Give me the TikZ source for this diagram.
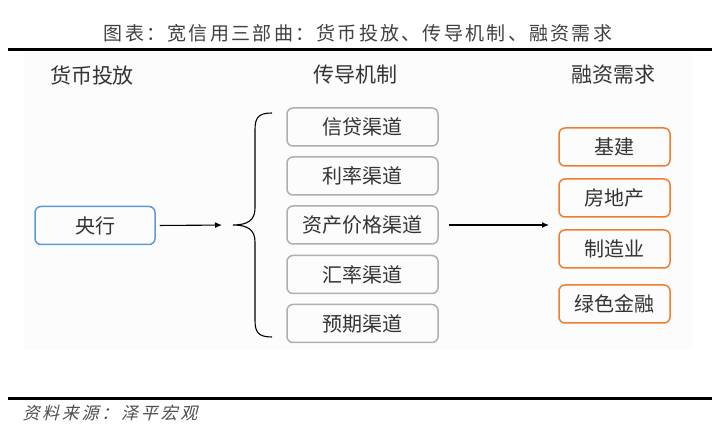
\documentclass[tikz,border=0pt]{standalone}
\usepackage{fontspec}
\usepackage{xcolor}
\usepackage{tikz}
\usetikzlibrary{positioning,calc,arrows.meta}
\setmainfont{Noto Sans CJK SC}
\newfontfamily\titlefont[LetterSpace=12]{Noto Sans CJK SC}
\newfontfamily\sourcefont[FakeSlant=0.25,LetterSpace=16]{Noto Sans CJK SC}
\definecolor{boxblue}{HTML}{5B9BD5}
\definecolor{boxorange}{HTML}{ED7D31}
\definecolor{boxgray}{HTML}{AFAFAF}
\definecolor{textgray}{HTML}{333333}

\begin{document}
\begin{tikzpicture}[x=1pt,y=-1pt,
    chan/.style={rectangle, rounded corners=6pt, draw=boxgray, line width=1.5pt, minimum width=151pt, minimum height=38pt, text=textgray, font=\fontsize{20}{24}\selectfont},
    bank/.style={chan, draw=boxblue, minimum width=120pt},
    need/.style={chan, draw=boxorange, minimum width=111pt},
    head/.style={text=textgray, font=\fontsize{21}{24}\selectfont},
    flow/.style={-{Latex[length=7pt,width=6pt]}, line width=1.1pt}]
    \useasboundingbox (0,0) rectangle (716,443);
    \fill [black!1.2] (24,52) rectangle (692,350);
    \node (title) [text=black!75, font=\titlefont\fontsize{19}{22}\selectfont] at (358,33) {图表：宽信用三部曲：货币投放、传导机制、融资需求};
    \draw [line width=3pt] (8,50) -- (712,50);
    \draw [line width=3pt] (8,399) -- (712,399);
    \node (source) [anchor=west, text=black!70, font=\sourcefont\fontsize{17}{20}\selectfont] at (19,413) {资料来源：泽平宏观};

    % column heads
    \node (supply) [head] at (92,75) {货币投放};
    \node (channel) [head] at (355,75) {传导机制};
    \node (demand) [head] at (613,75) {融资需求};

    % central bank
    \node (cb) [bank] at (95,225.5) {央行};

    % transmission channels
    \node (credit) [chan] at (362.5,127) {信贷渠道};
    \node (rate) [chan] at (362.5,176) {利率渠道};
    \node (asset) [chan] at (362.5,225) {资产价格渠道};
    \node (fx) [chan] at (362.5,274.5) {汇率渠道};
    \node (expect) [chan] at (362.5,323.5) {预期渠道};

    % financing demand
    \node (infra) [need] at (614.5,147) {基建};
    \node (estate) [need] at (614.5,198) {房地产};
    \node (manu) [need] at (614.5,249) {制造业};
    \node (green) [need] at (614.5,304) {绿色金融};

    % brace and arrows
    \coordinate (bracetip) at (233,225);
    \coordinate (demandin) at (549,225);
    \draw [line width=1.1pt] (272,113) .. controls (258,113) and (255,118) .. (255,130)
        -- (255,208) .. controls (255,220) and (248,225) .. (bracetip)
        .. controls (248,225) and (255,230) .. (255,242)
        -- (255,320) .. controls (255,332) and (258,337) .. (272,337);
    \draw [flow, shorten <=4pt, shorten >=11pt] (cb.east) -- (bracetip);
    \draw [flow, shorten <=10pt] (asset.east) -- (demandin);
\end{tikzpicture}
\end{document}
